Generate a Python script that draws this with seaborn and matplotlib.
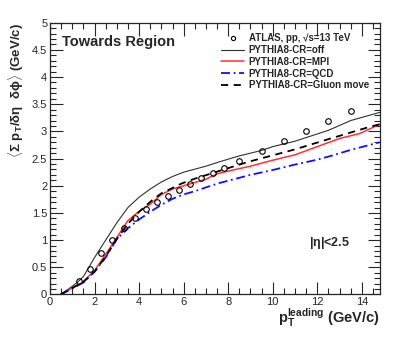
import numpy as np
import pandas as pd
import matplotlib
matplotlib.use("Agg")
import matplotlib.pyplot as plt
import seaborn as sns
from matplotlib.ticker import MultipleLocator

# ATLAS data
atlas_x = [1.3, 1.8, 2.3, 2.8, 3.3, 3.8, 4.3, 4.8, 5.3, 5.8, 6.3, 6.8, 7.3, 7.8,
           8.5, 9.5, 10.5, 11.5, 12.5, 13.5]
atlas_y = [0.25, 0.47, 0.76, 1.00, 1.23, 1.41, 1.57, 1.70, 1.82, 1.93, 2.03, 2.14,
           2.23, 2.33, 2.45, 2.64, 2.83, 3.01, 3.20, 3.37]

# PYTHIA8 CR=off
off_x = [0.48, 1.0, 1.3, 1.5, 2.0, 2.5, 3.0, 3.5, 4.0, 4.5, 5.0, 5.5, 6.0, 7.0, 7.6,
         8.5, 9.5, 10.0, 11.0, 12.5, 13.5, 14.8]
off_y = [0.0, 0.15, 0.25, 0.33, 0.68, 1.00, 1.32, 1.60, 1.79, 1.94, 2.07, 2.17, 2.25,
         2.36, 2.44, 2.55, 2.65, 2.72, 2.82, 3.02, 3.20, 3.35]

# PYTHIA8 CR=MPI
mpi_x = [0.48, 1.0, 1.3, 1.5, 2.0, 2.5, 3.0, 3.5, 4.0, 4.5, 5.0, 5.5, 6.0, 7.0, 7.5,
         8.0, 9.0, 10.0, 11.0, 12.0, 13.0, 13.9, 14.8]
mpi_y = [0.0, 0.12, 0.18, 0.24, 0.44, 0.74, 1.05, 1.36, 1.53, 1.66, 1.84, 1.94, 2.00,
         2.12, 2.22, 2.27, 2.36, 2.47, 2.57, 2.72, 2.87, 2.96, 3.13]

# PYTHIA8 CR=QCD
qcd_x = [0.48, 1.0, 1.5, 2.0, 2.5, 3.0, 3.5, 4.0, 4.5, 5.0, 5.5, 6.0, 6.5, 7.0, 7.6,
         9.0, 10.0, 11.0, 12.0, 12.7, 13.5, 14.8]
qcd_y = [0.0, 0.11, 0.22, 0.42, 0.68, 1.02, 1.22, 1.38, 1.52, 1.65, 1.76, 1.84, 1.90,
         1.97, 2.05, 2.20, 2.29, 2.39, 2.48, 2.56, 2.66, 2.80]

# PYTHIA8 CR=Gluon move
gm_x = [0.48, 1.0, 1.5, 2.0, 2.5, 3.0, 3.5, 4.0, 4.6, 5.0, 5.9, 6.5, 7.5, 8.9, 10.0,
        11.0, 12.6, 14.4, 14.8]
gm_y = [0.0, 0.12, 0.23, 0.42, 0.70, 1.02, 1.30, 1.52, 1.74, 1.86, 2.04, 2.13, 2.26,
        2.44, 2.56, 2.67, 2.87, 3.09, 3.13]

labels = ["ATLAS, pp, \u221as=13 TeV", "PYTHIA8-CR=off", "PYTHIA8-CR=MPI",
          "PYTHIA8-CR=QCD", "PYTHIA8-CR=Gluon move"]

sns.set_style("ticks")
plt.rcParams["font.family"] = ["Liberation Sans", "DejaVu Sans"]
plt.rcParams["mathtext.fontset"] = "custom"
plt.rcParams["mathtext.rm"] = "Liberation Sans:bold"
plt.rcParams["mathtext.it"] = "Liberation Sans:bold"
plt.rcParams["mathtext.bf"] = "Liberation Sans:bold"

fig = plt.figure(figsize=(4.15, 3.44), dpi=100)
ax = fig.add_axes([0.1205, 0.144, 0.7955, 0.790])

df_off = pd.DataFrame({"x": off_x, "y": off_y})
df_mpi = pd.DataFrame({"x": mpi_x, "y": mpi_y})
df_qcd = pd.DataFrame({"x": qcd_x, "y": qcd_y})
df_gm = pd.DataFrame({"x": gm_x, "y": gm_y})
df_atlas = pd.DataFrame({"x": atlas_x, "y": atlas_y})

sns.lineplot(data=df_off, x="x", y="y", ax=ax, color="#303030", lw=0.8,
             sort=False, estimator=None, label=labels[1])
sns.lineplot(data=df_mpi, x="x", y="y", ax=ax, color="#ff3030", lw=1.1,
             sort=False, estimator=None, label=labels[2])
sns.lineplot(data=df_qcd, x="x", y="y", ax=ax, color="#1010ff", lw=1.3,
             sort=False, estimator=None, label=labels[3], linestyle=(0, (5, 2, 1, 2)))
sns.lineplot(data=df_gm, x="x", y="y", ax=ax, color="black", lw=1.3,
             sort=False, estimator=None, label=labels[4], linestyle=(0, (4, 3)))
ax.plot(df_atlas["x"], df_atlas["y"], "o", mfc="none", mec="black", ms=4.0, mew=0.8,
        label=labels[0], zorder=5)

ax.set_xlim(0, 14.82)
ax.set_ylim(0, 5)
ax.xaxis.set_major_locator(MultipleLocator(2))
ax.xaxis.set_minor_locator(MultipleLocator(0.5))
ax.yaxis.set_major_locator(MultipleLocator(0.5))
ax.yaxis.set_minor_locator(MultipleLocator(0.1))
ax.set_yticks(np.arange(0, 5.01, 0.5))
ax.set_yticklabels(["0", "0.5", "1", "1.5", "2", "2.5", "3", "3.5", "4", "4.5", "5"])
ax.tick_params(which="both", direction="in", top=True, right=True, labelsize=8,
               width=0.8)
ax.tick_params(which="major", length=9, pad=2)
ax.tick_params(which="minor", length=4.5)
for s in ax.spines.values():
    s.set_linewidth(0.9)

ax.set_xlabel("$\\mathbf{p_T^{leading}}$ (GeV/c)", loc="right", fontsize=10.5,
              fontweight="bold", labelpad=0)
ax.set_ylabel("$\\langle\\Sigma$ p$_T$/$\\delta\\eta$  $\\delta\\phi\\rangle$ (GeV/c)",
              loc="top", fontsize=9.5, fontweight="bold", labelpad=4)

ax.text(0.035, 0.93, "Towards Region", transform=ax.transAxes, fontsize=10.5,
        fontweight="bold", va="center", ha="left")
ax.text(0.785, 0.19, "|$\\eta$|<2.5", transform=ax.transAxes, fontsize=9,
        fontweight="bold", va="center", ha="left")

h, l = ax.get_legend_handles_labels()
order = [4, 0, 1, 2, 3]
leg = ax.legend([h[i] for i in order], [l[i] for i in order], loc="upper left",
                bbox_to_anchor=(0.506, 0.975), frameon=False, fontsize=7,
                handlelength=2.4, labelspacing=0.18, handletextpad=0.45,
                borderaxespad=0, markerscale=0.75)
for t in leg.get_texts():
    t.set_fontweight("bold")

fig.savefig("out.png", dpi=100)
